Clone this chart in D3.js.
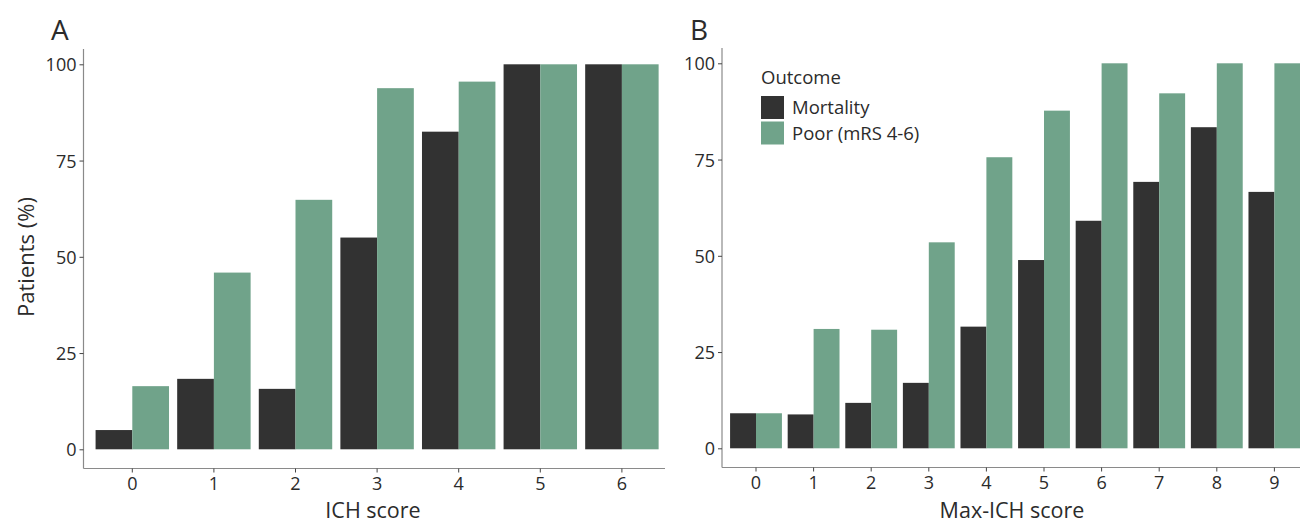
<!DOCTYPE html>
<html><head><meta charset="utf-8">
<script src="https://cdn.jsdelivr.net/npm/d3@7"></script>
<style>body{margin:0;background:#fff}svg{display:block}text{font-family:"Open Sans",sans-serif;fill:#2b2b2b}</style>
</head><body><svg id="c" width="1300" height="525"></svg>
<script>
const seriesNames = ["Mortality", "Poor (mRS 4-6)"];
const colors = ["#323232", "#70a38a"];
const yTicks = [0, 25, 50, 75, 100];

const catsA = ["0","1","2","3","4","5","6"];
const mortA = [5.0, 18.3, 15.7, 55.0, 82.5, 100, 100];
const poorA = [16.4, 45.9, 64.8, 93.8, 95.5, 100, 100];

const catsB = ["0","1","2","3","4","5","6","7","8","9"];
const mortB = [9.1, 8.8, 11.8, 17.0, 31.6, 48.9, 59.1, 69.2, 83.4, 66.6];
const poorB = [9.1, 31.0, 30.8, 53.5, 75.6, 87.7, 100, 92.2, 100, 100];

const svg = d3.select("#c");

function panel(o){
  const g = svg.append("g");
  const y = d3.scaleLinear().domain([0,100]).range([o.y0, o.y100]);
  const n = o.cats.length;
  const x = d3.scaleBand().domain(o.cats)
    .range([o.c0 - o.step/2, o.c0 - o.step/2 + o.step*n]).paddingInner(0.1).paddingOuter(0.05);
  const xs = d3.scaleBand().domain(seriesNames).range([0, x.bandwidth()]);
  const data = o.cats.map((c,i)=>({c, v:[o.mort[i], o.poor[i]]}));
  const grp = g.selectAll("g.b").data(data).join("g").attr("transform", d=>`translate(${x(d.c)},0)`);
  grp.selectAll("rect").data(d=>d.v.map((v,j)=>({v,j}))).join("rect")
    .attr("x", d=>xs(seriesNames[d.j])).attr("width", xs.bandwidth())
    .attr("y", d=>y(d.v)).attr("height", d=>y(0)-y(d.v))
    .attr("fill", d=>colors[d.j]);
  const axCol = "#8a8a8a";
  g.append("line").attr("x1",o.axX).attr("x2",o.axX).attr("y1",o.yTop).attr("y2",o.axY).attr("stroke",axCol).attr("stroke-width",1.2);
  g.append("line").attr("x1",o.axX).attr("x2",o.xRight).attr("y1",o.axY).attr("y2",o.axY).attr("stroke",axCol).attr("stroke-width",1.2);
  const ya = g.append("g").attr("transform",`translate(${o.axX},0)`).call(d3.axisLeft(y).tickValues(yTicks).tickSize(4).tickPadding(3));
  ya.select(".domain").remove();
  ya.selectAll("line").attr("stroke","#444");
  ya.selectAll("text").style("font-size","18px").attr("fill","#2b2b2b").attr("dy","0.36em");
  const xa = g.append("g").attr("transform",`translate(0,${o.axY})`).call(d3.axisBottom(x).tickSize(4).tickPadding(5));
  xa.select(".domain").remove();
  xa.selectAll("line").attr("stroke","#444");
  xa.selectAll("text").style("font-size","18px").attr("fill","#2b2b2b");
  g.append("text").attr("x",o.titleX).attr("y",518).attr("text-anchor","middle").style("font-size","21.5px").text(o.title);
  g.append("text").attr("x",o.tagX).attr("y",40).style("font-size","28px").text(o.tag);
  return {g,x,y};
}

panel({cats:catsA, mort:mortA, poor:poorA, y0:449.3, y100:64.3, c0:132.3, step:81.6,
  axX:83.5, axY:468.5, yTop:49, xRight:665, title:"ICH score", titleX:373, tag:"A", tagX:51});
panel({cats:catsB, mort:mortB, poor:poorB, y0:448.3, y100:63.3, c0:756, step:57.6,
  axX:722, axY:467.5, yTop:48, xRight:1300, title:"Max-ICH score", titleX:1012, tag:"B", tagX:690});

svg.append("text").attr("transform","translate(34,257) rotate(-90)").attr("text-anchor","middle")
  .style("font-size","22px").text("Patients (%)");

const lg = svg.append("g");
lg.append("text").attr("x",761).attr("y",84).style("font-size","18.5px").text("Outcome");
seriesNames.forEach((s,i)=>{
  lg.append("rect").attr("x",761).attr("y",96+i*25.5).attr("width",23).attr("height",23).attr("fill",colors[i]);
  lg.append("text").attr("x",792).attr("y",107.5+i*25.5).attr("dy","0.36em").style("font-size","18.5px").text(s);
});
</script></body></html>
